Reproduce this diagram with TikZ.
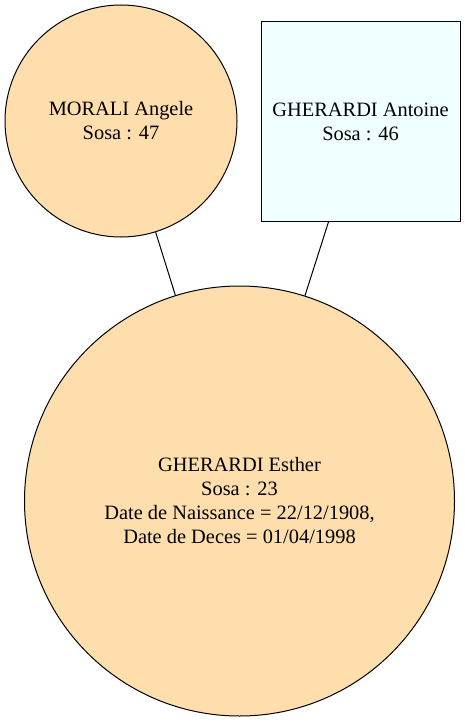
\documentclass[tikz,border=0pt]{standalone}
\usepackage{fontspec}
\setmainfont{Liberation Serif}
\definecolor{navajo}{HTML}{FFDEAD}
\definecolor{azurefill}{HTML}{F0FFFF}
\begin{document}
\begin{tikzpicture}[x=1pt,y=-1pt,
  person/.style={draw=black, line width=1pt, inner sep=0pt, align=center,
    font=\fontsize{20.4}{24}\selectfont},
  female/.style={person, circle, fill=navajo},
  male/.style={person, rectangle, fill=azurefill},
  link/.style={draw=black, line width=1pt}]
\useasboundingbox (0,0) rectangle (465,722);
\node[female, minimum size=232pt] (morali) at (121,121) {MORALI Angele\\Sosa : 47};
\node[male, minimum width=199pt, minimum height=199pt] (antoine) at (360.5,121.5) {GHERARDI Antoine\\Sosa : 46};
\node[female, minimum size=430pt] (esther) at (239.5,501) {GHERARDI Esther\\Sosa : 23\\Date de Naissance = 22/12/1908,\\Date de Deces = 01/04/1998};
\draw[link] (morali) -- (esther);
\draw[link] (antoine) -- (esther);
\end{tikzpicture}
\end{document}
